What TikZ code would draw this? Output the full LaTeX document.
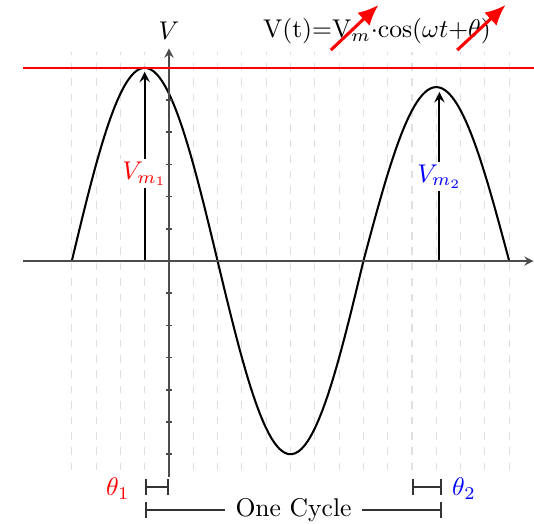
\documentclass[tikz,border=0pt]{standalone}
\usepackage{tikz}
\usetikzlibrary{arrows.meta, positioning}

\begin{document}
\begin{tikzpicture}[
    x=0.3333cm, y=0.4417cm,
    axis/.style={black!70, line width=0.6pt, -stealth},
    gridline/.style={gray!25, dashed, thin},
    wave/.style={black, thick, smooth, samples=90},
    peak/.style={black, thick, -stealth},
    span/.style={black!80, thick, {Bar[width=6pt]}-{Bar[width=6pt]}},
    hint/.style={red, very thick, -{Latex[length=8pt, width=7pt]}},
    maglabel/.style={fill=white, inner sep=1pt},
    refline/.style={color=red, line width=0.6pt}
]
    \useasboundingbox (-6.955,-8.137) rectangle (15.02,8.106);

    % Grid
    \foreach \x in {-4,...,-1,1,2,...,14}
        \draw[gridline] (\x,-6.5) -- (\x,6.5);

    % Waveform
    \draw[wave, domain=-4:8] plot (\x,{6*cos(30*(\x+1))});
    \draw[wave, domain=8:14] plot (\x,{5.4*cos(30*(\x-11))});

    % Peak values
    \coordinate (base1) at (-1,0);
    \coordinate (top1) at (-1,5.88);
    \draw[peak] (base1) -- (top1) node[pos=0.46, maglabel, text=red] (vm1) {$V_{m_1}$};
    \coordinate (base2) at (11.13,0);
    \coordinate (top2) at (11.13,5.25);
    \draw[peak] (base2) -- (top2) node[midway, maglabel, text=blue] (vm2) {$V_{m_2}$};

    % Axes
    \draw[axis] (-6,0) -- (15,0);
    \draw[axis] (0,-6.7) -- (0,6.6) node[above, text=black] (vaxis) {$V$};
    \foreach \y in {-6,...,-1,1,2,...,6}
        \draw[black!70, line width=0.6pt] (-0.13,\y) -- (0.13,\y);

    % Reference level
    \coordinate (lvlL) at (-6,6);
    \coordinate (lvlR) at (15.02,6);
    \draw[refline] (lvlL) -- (lvlR);

    % Formula
    \node (formula) at (8.56,7.13) {V(t)=V$_m\cdot$cos($\omega t$+$\theta$)};
    \coordinate (hintA) at (6.66,6.55);
    \coordinate (hintAend) at (8.62,7.95);
    \coordinate (hintB) at (11.86,6.55);
    \coordinate (hintBend) at (13.85,7.95);
    \draw[hint] (hintA) -- (hintAend);
    \draw[hint] (hintB) -- (hintBend);

    % Phase shifts
    \coordinate (ph1a) at (-1,-7.02);
    \coordinate (ph1b) at (0,-7.02);
    \draw[span] (ph1a) -- (ph1b);
    \node[text=red] (theta1) at (-2.1,-7.07) {$\theta_1$};
    \coordinate (ph2a) at (10,-7.02);
    \coordinate (ph2b) at (11.25,-7.02);
    \draw[span] (ph2a) -- (ph2b);
    \node[text=blue] (theta2) at (12.14,-7.07) {$\theta_2$};

    % One cycle
    \coordinate (cyc0) at (-1,-7.73);
    \coordinate (cyc1) at (11.25,-7.73);
    \draw[span] (cyc0) -- (cyc1) node[midway, fill=white, text=black, inner sep=4pt] (cycle) {One Cycle};

\end{tikzpicture}
\end{document}
